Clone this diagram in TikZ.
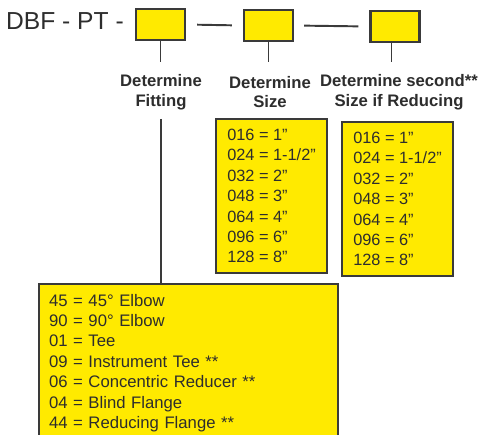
\documentclass[tikz,border=0pt]{standalone}
\usepackage{fontspec}
\setmainfont{Liberation Sans}
\usepackage{tikz}
\usetikzlibrary{positioning}
\definecolor{fieldyellow}{RGB}{255,234,0}
\definecolor{edgegrey}{RGB}{58,58,58}
\definecolor{inkgrey}{RGB}{45,45,45}
\tikzset{
  fieldbox/.style={draw=edgegrey, line width=1.2pt, fill=fieldyellow, minimum width=0.98cm, minimum height=0.62cm, inner sep=0pt},
  codebox/.style={draw=edgegrey, line width=1.2pt, fill=fieldyellow, anchor=north west, align=left, minimum width=2.22cm, minimum height=3.08cm, font=\fontsize{9.3}{11.6}\selectfont},
  fitbox/.style={codebox, inner xsep=0.2cm, inner ysep=0.2cm, text width=5.58cm, minimum height=0cm, font=\fontsize{9.5}{11.6}\selectfont},
  steplabel/.style={font=\fontsize{9.5}{11.3}\selectfont\bfseries, align=center, inner sep=1pt},
  joinline/.style={draw=edgegrey, line width=1.1pt}
}

\begin{document}
\begin{tikzpicture}[x=0.02cm, y=-0.02cm, every node/.style={text=inkgrey}]
  \clip (0,0) rectangle (480,434);
  % code fields
  \node[anchor=west, font=\fontsize{14}{16}\selectfont] (prefix) at (0,21) {DBF - PT -};
  \node[fieldbox] (fitfield) at (160.5,24.5) {};
  \node[fieldbox] (sizefield) at (268.5,25.5) {};
  \node[fieldbox] (redfield) at (395,26.5) {};
  \draw[joinline, shorten <=0.22cm, shorten >=0.22cm] (fitfield.east) -- (sizefield.west);
  \draw[joinline, shorten <=0.2cm, shorten >=0.22cm] (sizefield.east) -- (redfield.west);

  % step labels
  \node[steplabel] (fitlabel) at (161,92) {Determine\\Fitting};
  \node[steplabel] (sizelabel) at (270,92) {Determine\\Size};
  \node[steplabel] (redlabel) at (399,92) {Determine second**\\Size if Reducing};
  \draw[joinline, shorten >=0.2cm] (fitfield.south) -- (fitfield.south |- fitlabel.north);
  \draw[joinline, shorten >=0.24cm] (sizefield.south) -- (sizefield.south |- sizelabel.north);
  \draw[joinline, shorten >=0.2cm] ([xshift=-2]redfield.south) -- ([xshift=-2]redfield.south |- redlabel.north);

  % code tables
  \node[codebox] (sizecodes) at (215,118) {016 = 1"\\024 = 1-1/2"\\032 = 2"\\048 = 3"\\064 = 4"\\096 = 6"\\128 = 8"};
  \node[codebox] (redcodes) at (341,121) {016 = 1"\\024 = 1-1/2"\\032 = 2"\\048 = 3"\\064 = 4"\\096 = 6"\\128 = 8"};
  \node[fitbox] (fitcodes) at (38,283) {45 = 45° Elbow\\90 = 90° Elbow\\01 = Tee\\09 = Instrument Tee **\\06 = Concentric Reducer **\\04 = Blind Flange\\44 = Reducing Flange **};
  \draw[joinline, shorten <=0.14cm] (fitlabel.south) -- (fitlabel.south |- fitcodes.north);
\end{tikzpicture}
\end{document}
